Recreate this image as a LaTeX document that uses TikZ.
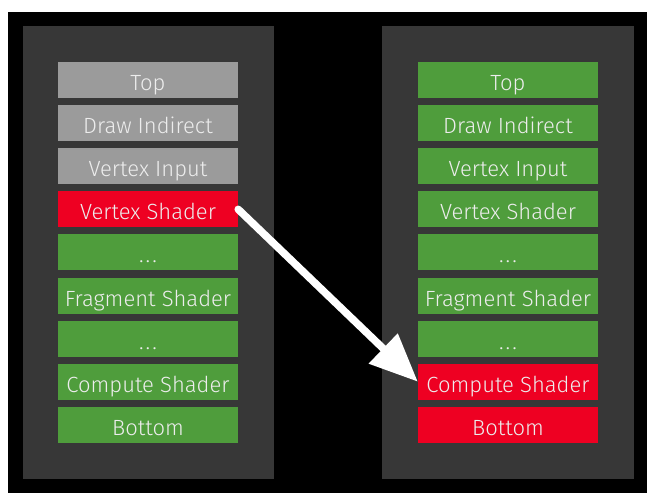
\documentclass[tikz,border=0pt]{standalone}
\usepackage{fontspec}
\setmainfont{Fira Sans Light}
\usetikzlibrary{arrows.meta}
\definecolor{panelGray}{HTML}{373737}
\definecolor{stageGray}{HTML}{9B9B9B}
\definecolor{stageGreen}{HTML}{4F9D3C}
\definecolor{stageRed}{HTML}{EE0022}
\definecolor{labelWhite}{HTML}{EDEDED}
\newcommand{\stageDots}{.\kern2pt.\kern2pt.}

\begin{document}
\begin{tikzpicture}[x=1pt, y=-1pt,
    stage/.style={minimum width=180pt, minimum height=36pt, inner sep=0pt,
        text height=21pt, text depth=0pt,
        text=labelWhite, font=\fontsize{22}{22}\selectfont}]
    \fill[white] (0,0) rectangle (657,504);
    \fill[black] (8,12) rectangle (647,493);
    \fill[panelGray] (23,26) rectangle (274,479);
    \fill[panelGray] (382,26) rectangle (634,479);

    \foreach \name/\lc/\rc [count=\i] in {Top/stageGray/stageGreen,
        Draw Indirect/stageGray/stageGreen, Vertex Input/stageGray/stageGreen,
        Vertex Shader/stageRed/stageGreen, \stageDots/stageGreen/stageGreen,
        Fragment Shader/stageGreen/stageGreen, \stageDots/stageGreen/stageGreen,
        Compute Shader/stageGreen/stageRed, Bottom/stageGreen/stageRed}
    {
        \node[stage, fill=\lc] (L\i) at (148, {80+43.1*(\i-1)}) {\name};
        \node[stage, fill=\rc] (R\i) at (508, {80+43.1*(\i-1)}) {\name};
    }

    \draw[white, line width=7.5pt, line cap=round, -{Triangle[length=48pt, width=40pt]}] (L4.east) -- (R8.west);
\end{tikzpicture}
\end{document}
